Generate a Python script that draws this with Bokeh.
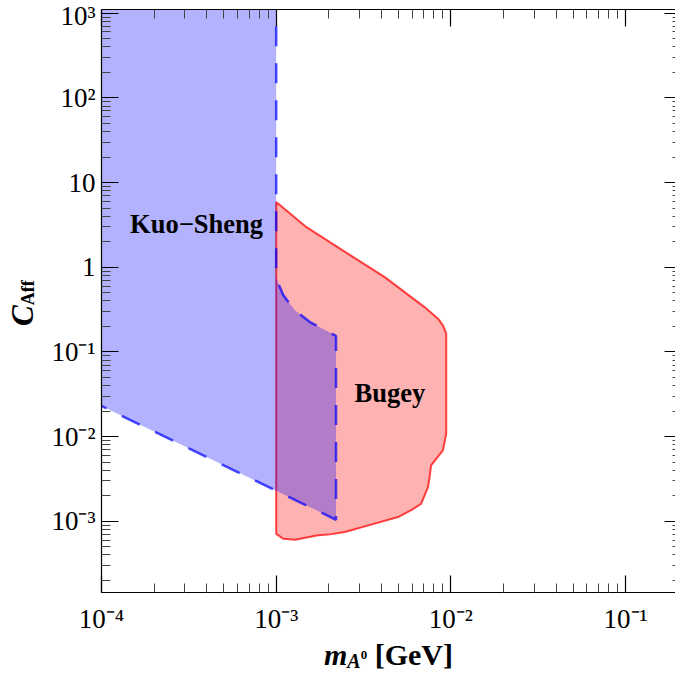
from bokeh.plotting import figure
from bokeh.models import LogAxis, FixedTicker, Range1d, Label, Div
from bokeh.layouts import row, column
from bokeh.embed import file_html
from bokeh.resources import INLINE

# ---- data ----
kuo_sheng_m = [5e-5, 5e-5, 1.0e-3, 1.0e-3, 1.05e-3, 1.1e-3, 1.28e-3, 1.56e-3, 2.2e-3, 2.2e-3]
kuo_sheng_c = [0.046, 1e4, 1e4, 0.76, 0.58, 0.465, 0.31, 0.225, 0.155, 1.04e-3]

bugey_m = [1.0e-3, 1.49e-3, 2.58e-3, 4.18e-3, 4.98e-3, 7.06e-3, 8.44e-3, 9.0e-3, 9.4e-3,
           9.4e-3, 9.0e-3, 7.7e-3, 7.55e-3, 7.4e-3, 6.76e-3, 5.93e-3, 4.98e-3, 3.66e-3,
           2.47e-3, 1.98e-3, 1.74e-3, 1.28e-3, 1.1e-3, 1.0e-3]
bugey_c = [5.9, 2.97, 1.44, 0.764, 0.582, 0.338, 0.247, 0.206, 0.164,
           0.0108, 6.87e-3, 4.57e-3, 3.33e-3, 2.54e-3, 1.61e-3, 1.35e-3, 1.12e-3, 9.37e-4,
           7.46e-4, 6.95e-4, 6.82e-4, 6.06e-4, 6.2e-4, 7.1e-4]

x_major = [1e-4, 1e-3, 1e-2, 1e-1]
x_major_labels = ["10⁻⁴", "10⁻³", "10⁻²", "10⁻¹"]
y_major = [1e-3, 1e-2, 1e-1, 1.0, 10.0, 100.0, 1000.0]
y_major_labels = ["10⁻³", "10⁻²", "10⁻¹", "1", "10", "10²", "10³"]
minor_ticks = [m * 10.0 ** k for k in range(-5, 4) for m in range(2, 10)]

SERIF = "Liberation Serif"

p = figure(width=627, height=640, x_axis_type="log", y_axis_type="log",
           x_range=Range1d(1e-4, 0.193), y_range=Range1d(1.44e-4, 1.106e3),
           output_backend="svg", toolbar_location=None,
           min_border_left=52, min_border_right=0, min_border_top=9, min_border_bottom=48)
p.xgrid.grid_line_color = None
p.ygrid.grid_line_color = None
p.outline_line_color = None
p.background_fill_color = "white"
p.border_fill_color = "white"


def style_axis(ax, ticks, labels, tick_in, minor_in, show_labels, standoff=6, line=True):
    ax.ticker = FixedTicker(ticks=ticks, minor_ticks=minor_ticks)
    ax.major_tick_in = tick_in
    ax.major_tick_out = 0
    ax.minor_tick_in = minor_in
    ax.minor_tick_out = 0
    ax.major_tick_line_color = "black"
    ax.major_tick_line_width = 1.2
    ax.minor_tick_line_color = "#444444"
    ax.minor_tick_line_width = 1
    ax.axis_line_color = "black" if line else None
    ax.axis_line_width = 1.2
    ax.major_label_text_font = SERIF
    ax.major_label_text_color = "black"
    if show_labels:
        ax.major_label_overrides = {t: s for t, s in zip(ticks, labels)}
        ax.major_label_text_font_size = "27px"
        ax.major_label_standoff = standoff
    else:
        ax.major_label_overrides = {t: "" for t in ticks}
        ax.major_label_text_font_size = "1px"
        ax.major_label_standoff = 0


style_axis(p.xaxis[0], x_major, x_major_labels, 17, 9, True, standoff=11)
style_axis(p.yaxis[0], y_major, y_major_labels, 17, 9, True, standoff=6)

top = LogAxis()
style_axis(top, x_major, x_major_labels, 17, 9, False)
p.add_layout(top, "above")
right = LogAxis()
style_axis(right, y_major, y_major_labels, 11, 3, False, line=False)
p.add_layout(right, "right")

# regions
p.patch(bugey_m, bugey_c, fill_color="red", fill_alpha=0.3,
        line_color="red", line_alpha=0.72, line_width=2)
p.patch(kuo_sheng_m, kuo_sheng_c, fill_color="blue", fill_alpha=0.3,
        line_color="blue", line_alpha=0.7, line_width=2.5, line_dash="20 17")

# region names
p.add_layout(Label(x=3.5e-4, y=3.2, text="Kuo−Sheng", text_font=SERIF, text_font_size="26.5px",
                   text_color="black", text_font_style="bold", text_align="center",
                   text_baseline="alphabetic"))
p.add_layout(Label(x=4.47e-3, y=0.0324, text="Bugey", text_font=SERIF, text_font_size="26.5px",
                   text_color="black", text_font_style="bold", text_align="center",
                   text_baseline="alphabetic"))

# axis titles as HTML text (sub/superscripts)
font_css = "font-family:'Liberation Serif',serif; font-weight:bold; color:black; white-space:nowrap;"
ylabel = Div(width=48, height=640, margin=0, text=(
    f'<div style="position:relative; left:8px; top:326px; width:0; height:0;">'
    f'<div style="transform-origin:0 0; transform:rotate(-90deg); {font_css} '
    f'font-size:31px; line-height:30px;">'
    f'<i>C</i><span style="font-size:18px; position:relative; top:1px;">Aff</span>'
    f'</div></div>'))
xlabel = Div(width=675, height=36, margin=0, text=(
    f'<div style="position:relative; left:324px; top:1px; {font_css} '
    f'font-size:30px; line-height:28px;">'
    f'<i>m</i><span style="font-size:20px; font-style:italic; position:relative; top:3px;">A</span>'
    f'<span style="font-size:13px; position:relative; top:-6px;">0</span> [GeV]'
    f'</div>'))

layout = column(row(ylabel, p, spacing=0), xlabel, spacing=0)

open("out.html", "w").write(file_html(layout, INLINE))
